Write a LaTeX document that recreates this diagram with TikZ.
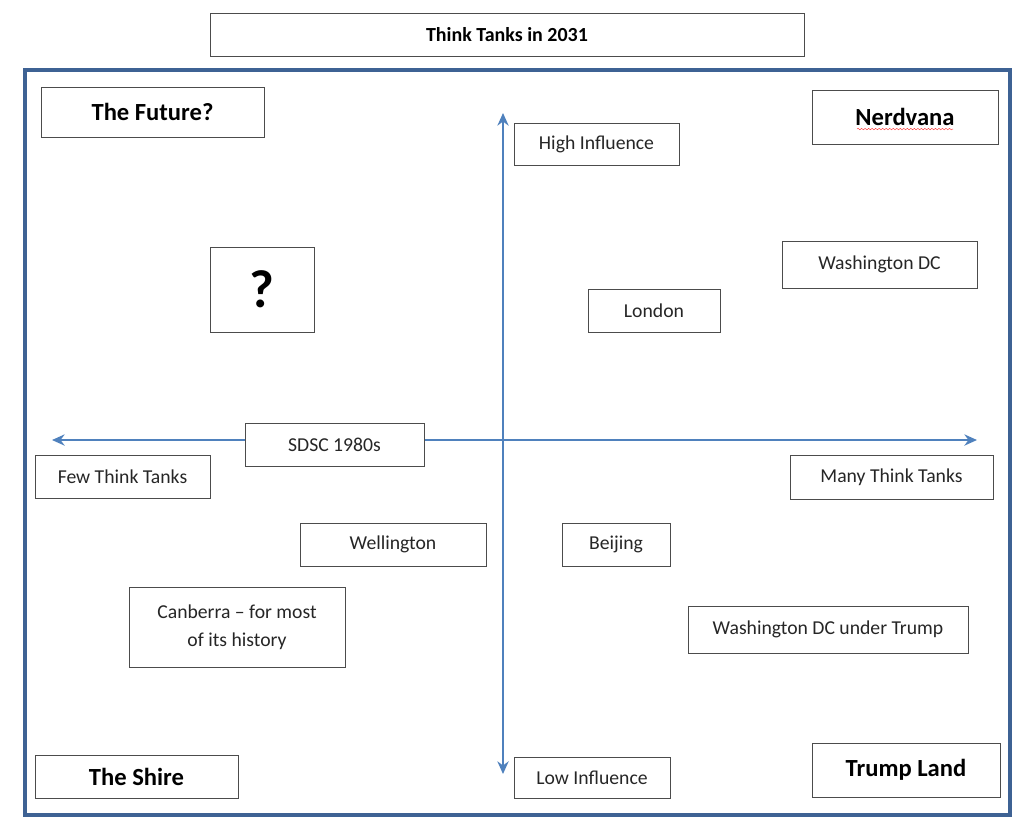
\documentclass[tikz,border=0pt]{standalone}
\usepackage{fontspec}
\setmainfont{Carlito}
\usetikzlibrary{arrows.meta,decorations.pathmorphing}
\definecolor{frameblue}{RGB}{62,98,148}
\definecolor{axisblue}{RGB}{79,129,189}

\begin{document}
\begin{tikzpicture}[
    x=0.025cm, y=-0.025cm,
    box/.style={draw=black!70, line width=0.6pt, fill=white, inner sep=0pt,
        text=black!85, font=\fontsize{14}{17}\selectfont},
    corner/.style={box, text=black, font=\fontsize{17.5}{21}\selectfont\bfseries},
    axis/.style={draw=axisblue, line width=1.4pt,
        {Stealth[length=9pt,width=8pt]}-{Stealth[length=9pt,width=8pt]}}
]
\useasboundingbox (0,0) rectangle (1024,825);
\draw[frameblue, line width=3.2pt] (25,70) rectangle (1010,815);

% axes
\coordinate (up) at (503,113);
\coordinate (down) at (503,774);
\coordinate (left) at (52,440);
\coordinate (right) at (977,440);
\draw[axis] (down) -- (up);
\draw[axis] (left) -- (right);

\node[box, text=black, font=\fontsize{14.2}{17}\selectfont\bfseries,
    minimum width=14.85cm, minimum height=1.075cm] (title) at (507,34.5) {Think Tanks in 2031};

\node[corner, minimum width=5.575cm, minimum height=1.25cm] (future) at (152.5,112) {The Future?};
\node[corner, minimum width=4.65cm, minimum height=1.35cm] (nerdvana) at (905,117) {Nerdvana};
\node[corner, minimum width=5.075cm, minimum height=1.075cm] (shire) at (136.5,776.5) {The Shire};
\node[corner, minimum width=4.7cm, minimum height=1.35cm] (trumpland) at (906,770) {Trump Land};
\draw[red!80, line width=0.3pt, decorate, decoration={snake, amplitude=0.5pt, segment length=2.5pt}]
    ([xshift=-1.2cm,yshift=-2.5pt]nerdvana.base) -- ([xshift=1.2cm,yshift=-2.5pt]nerdvana.base); % <- spell check line

\node[box, minimum width=4.125cm, minimum height=1.05cm] (highinf) at (596.5,144) {High Influence};
\node[box, minimum width=3.9cm, minimum height=1.025cm] (lowinf) at (592,777.5) {Low Influence};
\node[box, minimum width=4.375cm, minimum height=1.075cm] (few) at (122.5,476.5) {Few Think Tanks};
\node[box, minimum width=5.075cm, minimum height=1.1cm] (many) at (891.5,477) {Many Think Tanks};

\node[box, text=black, font=\fontsize{38}{44}\selectfont\bfseries,
    minimum width=2.6cm, minimum height=2.125cm] (question) at (262,289.5) {?};
\node[box, minimum width=4.875cm, minimum height=1.175cm] (washdc) at (879.5,264.5) {Washington DC};
\node[box, minimum width=3.3cm, minimum height=1.075cm] (london) at (654,310.5) {London};
\node[box, minimum width=4.475cm, minimum height=1.075cm] (sdsc) at (334.5,444.5) {SDSC 1980s};
\node[box, minimum width=4.65cm, minimum height=1.075cm] (wellington) at (393,544.5) {Wellington};
\node[box, minimum width=2.7cm, minimum height=1.075cm] (beijing) at (616,544.5) {Beijing};
\node[box, align=center, minimum width=5.4cm, minimum height=2cm] (canberra) at (237,627)
    {Canberra -- for most\\[3pt]of its history};
\node[box, minimum width=7cm, minimum height=1.175cm] (dctrump) at (828,629.5) {Washington DC under Trump};
\end{tikzpicture}
\end{document}
